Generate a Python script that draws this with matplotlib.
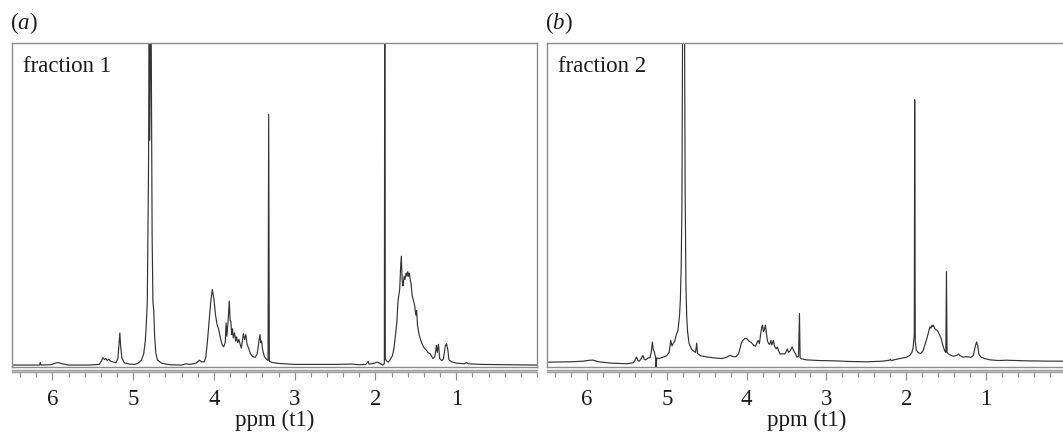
import matplotlib
matplotlib.use('Agg')
import matplotlib.pyplot as plt
from matplotlib.ticker import MultipleLocator

plt.rcParams['font.family'] = ['Liberation Serif', 'DejaVu Serif']
plt.rcParams['mathtext.fontset'] = 'custom'
plt.rcParams['mathtext.rm'] = 'Liberation Serif'
plt.rcParams['mathtext.it'] = 'Liberation Serif:italic'

# spectrum traces (ppm, intensity in % of frame height)
a_ppm = [6.5, 6.3, 6.16, 6.15, 6.14, 6.02, 5.96, 5.93, 5.88, 5.8, 5.55, 5.42, 5.39, 5.375,
         5.355, 5.34, 5.32, 5.3, 5.28, 5.25, 5.215, 5.19, 5.175, 5.165, 5.155, 5.14, 5.11,
         5.05, 4.98, 4.94, 4.9, 4.87, 4.85, 4.84, 4.825, 4.81, 4.8, 4.795, 4.78, 4.765,
         4.755, 4.745, 4.735, 4.72, 4.7, 4.65, 4.55, 4.4, 4.34, 4.31, 4.28, 4.22, 4.18,
         4.15, 4.12, 4.1, 4.08, 4.06, 4.04, 4.02, 4.0, 3.98, 3.96, 3.94, 3.92, 3.9, 3.88,
         3.86, 3.85, 3.84, 3.825, 3.81, 3.8, 3.79, 3.78, 3.77, 3.76, 3.745, 3.73, 3.72,
         3.705, 3.69, 3.675, 3.66, 3.645, 3.635, 3.62, 3.605, 3.59, 3.57, 3.55, 3.52, 3.49,
         3.465, 3.45, 3.44, 3.43, 3.42, 3.41, 3.395, 3.375, 3.35, 3.33, 3.322, 3.314, 3.28,
         3.2, 3.0, 2.5, 2.3, 2.2, 2.12, 2.09, 2.08, 2.02, 1.98, 1.95, 1.91, 1.89, 1.885,
         1.878, 1.86, 1.84, 1.82, 1.79, 1.77, 1.75, 1.735, 1.72, 1.7, 1.69, 1.68, 1.67,
         1.66, 1.655, 1.645, 1.635, 1.62, 1.61, 1.6, 1.59, 1.58, 1.57, 1.56, 1.545, 1.53,
         1.515, 1.5, 1.49, 1.48, 1.46, 1.43, 1.4, 1.37, 1.35, 1.32, 1.29, 1.265, 1.245,
         1.235, 1.22, 1.205, 1.18, 1.16, 1.135, 1.12, 1.105, 1.09, 1.06, 1.0, 0.9, 0.87,
         0.85, 0.7, 0.4, 0.0]
a_int = [0.6, 0.6, 0.6, 1.4, 0.6, 0.7, 1.2, 1.4, 1.0, 0.6, 0.6, 0.8, 2.0, 2.9,
         2.3, 2.6, 2.0, 2.4, 1.8, 1.6, 1.3, 2.5, 7.0, 10.5, 6.5, 2.8, 1.3,
         0.9, 0.8, 1.2, 2.0, 4.0, 8.0, 11.9, 20.0, 60.0, 120.0, 70.0, 120.0, 40.0,
         20.0, 17.5, 10.0, 4.5, 2.2, 1.2, 0.7, 0.6, 1.0, 0.8, 0.9, 1.2, 2.1,
         1.6, 1.6, 3.0, 8.0, 14.0, 20.0, 23.9, 21.0, 16.0, 13.0, 11.5, 9.0, 7.0, 6.2,
         7.5, 13.6, 9.5, 14.0, 20.4, 14.5, 14.0, 10.0, 11.8, 9.0, 10.5, 8.0, 9.3,
         7.5, 8.5, 7.0, 5.8, 8.5, 10.3, 8.5, 10.0, 7.0, 5.8, 4.2, 3.2, 3.0,
         4.0, 6.5, 8.5, 10.0, 7.5, 8.0, 5.0, 3.2, 2.4, 2.0, 78.0, 1.8, 1.4,
         1.1, 0.8, 0.8, 0.9, 0.7, 0.8, 1.7, 0.9, 1.1, 1.5, 1.2, 0.6, 1.0, 120.0,
         2.5, 1.8, 1.5, 2.2, 3.5, 6.0, 10.3, 14.0, 20.6, 24.0, 30.0, 34.2, 27.0,
         25.0, 25.8, 28.0, 27.0, 29.0, 28.0, 29.4, 28.0, 29.0, 27.0, 25.8, 22.0, 20.6,
         19.0, 16.0, 17.4, 13.0, 10.0, 7.5, 6.0, 5.2, 4.5, 4.0, 2.6, 3.2, 6.7,
         4.5, 7.0, 2.6, 2.0, 2.3, 6.5, 7.2, 5.5, 2.2, 1.6, 1.2, 1.0, 1.4,
         1.0, 0.8, 0.7, 0.6]

b_ppm = [6.5, 6.2, 6.05, 5.96, 5.92, 5.85, 5.7, 5.5, 5.42, 5.4, 5.38, 5.36, 5.345, 5.32,
         5.3, 5.28, 5.26, 5.235, 5.21, 5.195, 5.18, 5.17, 5.155, 5.14, 5.135, 5.125, 5.1,
         5.05, 5.0, 4.97, 4.95, 4.935, 4.92, 4.9, 4.88, 4.86, 4.84, 4.83, 4.82, 4.81, 4.8,
         4.78, 4.77, 4.76, 4.75, 4.74, 4.72, 4.69, 4.67, 4.64, 4.625, 4.615, 4.58, 4.5,
         4.4, 4.31, 4.25, 4.21, 4.17, 4.13, 4.1, 4.07, 4.05, 4.02, 4.0, 3.97, 3.94, 3.91,
         3.89, 3.87, 3.855, 3.84, 3.825, 3.81, 3.8, 3.79, 3.78, 3.765, 3.75, 3.74, 3.725,
         3.71, 3.695, 3.685, 3.665, 3.65, 3.63, 3.615, 3.6, 3.58, 3.55, 3.52, 3.49, 3.475,
         3.455, 3.43, 3.41, 3.39, 3.37, 3.35, 3.338, 3.33, 3.31, 3.25, 3.1, 2.9, 2.7, 2.49,
         2.3, 2.21, 2.2, 2.19, 2.1, 2.0, 1.96, 1.93, 1.915, 1.9, 1.895, 1.888, 1.875, 1.85,
         1.82, 1.79, 1.765, 1.74, 1.72, 1.705, 1.69, 1.68, 1.67, 1.66, 1.645, 1.63, 1.61,
         1.595, 1.58, 1.56, 1.54, 1.52, 1.505, 1.497, 1.49, 1.47, 1.44, 1.41, 1.37, 1.345,
         1.33, 1.31, 1.29, 1.26, 1.22, 1.19, 1.16, 1.135, 1.12, 1.105, 1.09, 1.06, 1.02,
         0.95, 0.85, 0.75, 0.5, 0.2, 0.0]
b_int = [1.5, 1.6, 1.8, 2.1, 2.1, 1.6, 1.2, 1.0, 1.3, 2.0, 3.1, 2.0, 1.8, 2.5,
         3.6, 2.3, 2.2, 2.8, 2.8, 4.5, 7.7, 5.5, 4.5, 3.0, -1.0, 2.8, 2.6,
         3.0, 3.5, 4.6, 8.2, 6.5, 7.2, 8.0, 10.0, 11.3, 16.0, 20.6, 30.0, 50.0, 120.0,
         120.0, 55.0, 25.0, 15.5, 11.0, 7.2, 5.5, 5.0, 4.5, 7.4, 4.2, 3.5, 3.1,
         2.8, 2.6, 3.0, 3.6, 3.2, 3.2, 4.1, 7.0, 8.2, 8.8, 8.8, 8.0, 7.5, 6.6,
         6.4, 7.5, 8.2, 7.2, 10.0, 12.4, 12.9, 11.0, 11.3, 12.9, 10.0, 8.2, 7.2,
         7.0, 8.2, 6.8, 8.2, 6.4, 5.6, 6.2, 5.0, 4.0, 4.1, 4.0, 5.6, 4.5,
         5.0, 6.2, 5.0, 4.2, 3.0, 3.3, 16.5, 2.8, 2.5, 2.2, 2.0, 1.9, 1.7, 1.6,
         1.8, 2.1, 2.4, 2.0, 2.5, 3.0, 3.5, 4.5, 6.0, 10.0, 82.5, 8.0, 5.2, 4.4,
         4.2, 5.0, 7.0, 9.0, 11.0, 12.4, 12.0, 12.9, 12.5, 12.9, 11.9, 11.5, 11.3,
         10.5, 9.8, 8.5, 6.5, 5.0, 4.5, 29.4, 4.5, 4.0, 3.6, 3.3, 3.6, 4.0,
         3.5, 3.3, 3.0, 3.2, 3.1, 3.0, 3.6, 6.5, 7.7, 6.5, 3.8, 3.0, 2.6,
         2.2, 2.0, 2.1, 1.9, 1.8, 1.8]

major_ticks = [6, 5, 4, 3, 2, 1]
tick_labels = ['6', '5', '4', '3', '2', '1']
panel_tags = ['a', 'b']
fraction_names = ['fraction 1', 'fraction 2']

W, H = 1063, 436
FRAME = '#8c8c8c'
TRACE = '#333333'


def rect(x0, x1, y0, y1):
    return [x0 / W, 1 - y1 / H, (x1 - x0) / W, (y1 - y0) / H]


def panel(fig, x0, x1, ppm, inten, tag, name):
    ax = fig.add_axes(rect(x0, x1, 43, 367))
    ax.plot(ppm, inten, color=TRACE, lw=0.85)
    ax.set_xlim(6.5, 0.0)
    ax.set_ylim(0, 100)
    ax.set_xticks([])
    ax.set_yticks([])
    for s in ax.spines.values():
        s.set_color(FRAME)
        s.set_linewidth(1.0)
    ax.text(0.021, 0.91, name, transform=ax.transAxes, fontsize=16.5,
            va='baseline', ha='left', color='#1a1a1a')

    # ruler underneath the spectrum
    r = fig.add_axes(rect(x0, x1, 369.5, 371.5))
    r.set_xlim(6.5, 0.0)
    r.set_yticks([])
    for k in ['left', 'right']:
        r.spines[k].set_visible(False)
    for k in ['top', 'bottom']:
        r.spines[k].set_color('#a0a0a0')
        r.spines[k].set_linewidth(1.0)
    r.set_facecolor('#c8c8c8')
    r.set_xticks(major_ticks)
    r.set_xticklabels(tick_labels, fontsize=16.5, color='#1a1a1a')
    r.xaxis.set_minor_locator(MultipleLocator(0.2))
    r.tick_params(axis='x', which='major', length=5.5, width=0.8, color=FRAME, pad=7)
    r.tick_params(axis='x', which='minor', length=3.5, width=0.8, color=FRAME)

    fig.text((x0 + x1) / 2 / W, 1 - 426 / H, 'ppm (t1)', fontsize=16.5,
             ha='center', va='baseline', color='#1a1a1a')
    fig.text((x0 - 2) / W, 1 - 29 / H, r'($\mathit{' + tag + r'}$)', fontsize=16.5,
             ha='left', va='baseline', color='#1a1a1a')


fig = plt.figure(figsize=(W / 100, H / 100), dpi=100)
panel(fig, 12, 537, a_ppm, a_int, panel_tags[0], fraction_names[0])
panel(fig, 547, 1066, b_ppm, b_int, panel_tags[1], fraction_names[1])
fig.savefig('out.png', dpi=100)
